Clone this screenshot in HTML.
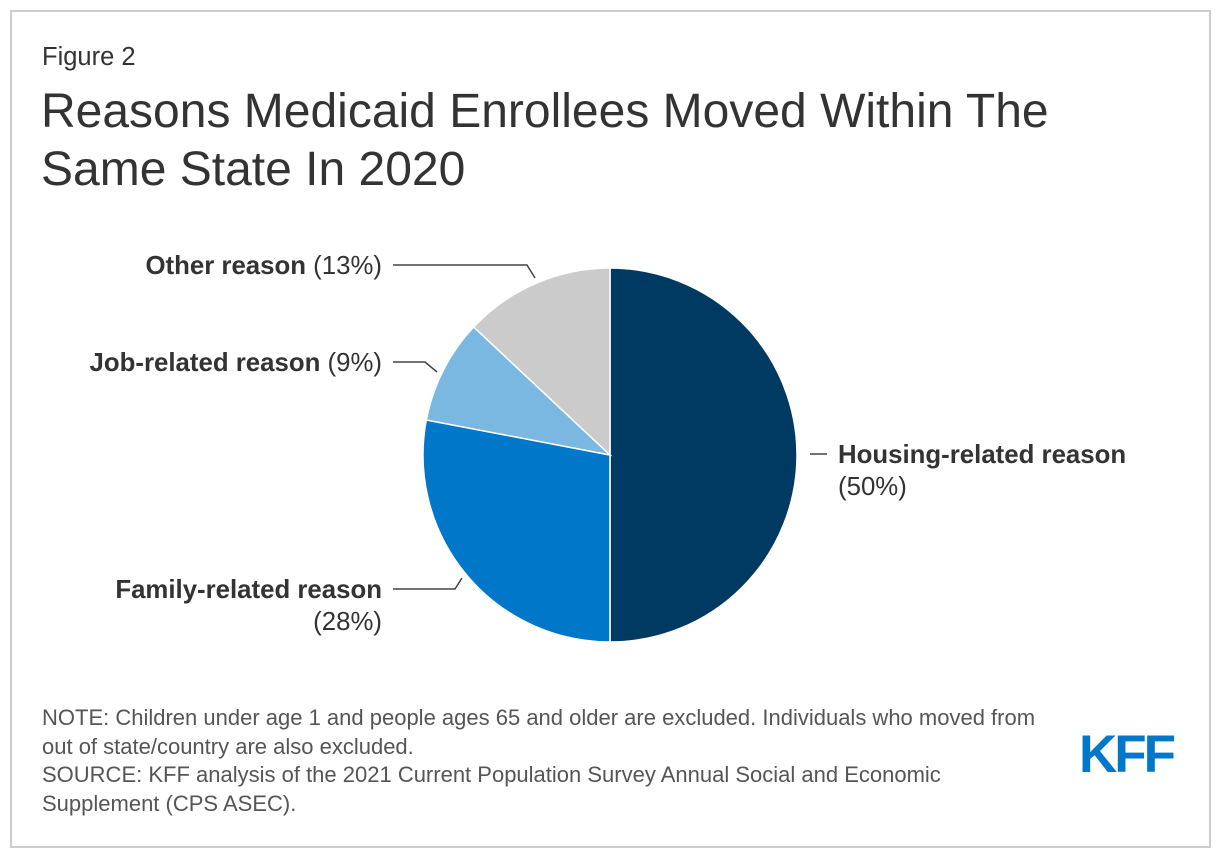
<!DOCTYPE html>
<html><head><meta charset="utf-8"><style>
body{margin:0;background:#fff;font-family:"Liberation Sans",Arial,sans-serif;color:#333;}
#frame{position:absolute;left:10px;top:10px;width:1197px;height:834px;border:2px solid #cdcdcd;}
.t{position:absolute;white-space:nowrap;}
</style></head><body>
<div id="frame"></div>
<div class="t" style="left:42px;top:43px;font-size:25.5px;">Figure 2</div>
<div class="t" style="left:41px;top:83px;font-size:48px;line-height:58px;color:#333;">Reasons Medicaid Enrollees Moved Within The<br>Same State In 2020</div>
<svg id="chart" width="1220" height="858" style="position:absolute;left:0;top:0;"></svg>
<div class="t" style="left:42px;top:704px;font-size:22px;line-height:28.5px;color:#555;">NOTE: Children under age 1 and people ages 65 and older are excluded. Individuals who moved from<br>out of state/country are also excluded.<br>SOURCE: KFF analysis of the 2021 Current Population Survey Annual Social and Economic<br>Supplement (CPS ASEC).</div>
<div class="t" style="left:1079px;top:724px;font-size:53px;font-weight:bold;color:#0077c8;letter-spacing:-3px;">KFF</div>
<script>
const categories=["Housing-related reason","Family-related reason","Job-related reason","Other reason"];
const values=[50,28,9,13];
const colors=["#003a63","#0077c8","#7ab8e2","#cbcbcb"];
const svg=document.getElementById('chart');
const NS="http://www.w3.org/2000/svg";
const cx=610,cy=455,r=187;
const total=values.reduce((a,b)=>a+b,0);
function pt(frac,rad){const a=frac*2*Math.PI;return [cx+rad*Math.sin(a),cy-rad*Math.cos(a)];}
let acc=0;
values.forEach((v,i)=>{
  const s=acc/total,e=(acc+v)/total;acc+=v;
  const p0=pt(s,r),p1=pt(e,r);
  const large=(e-s)>0.5?1:0;
  const path=document.createElementNS(NS,'path');
  path.setAttribute('d',`M${cx},${cy}L${p0[0]},${p0[1]}A${r},${r} 0 ${large} 1 ${p1[0]},${p1[1]}Z`);
  path.setAttribute('fill',colors[i]);
  path.setAttribute('stroke','#fff');
  path.setAttribute('stroke-width','1.5');
  
  
  svg.appendChild(path);
});
const leaders=[
  {pts:"810,454 827,454",lab:[[838,463,"start",categories[0],true],[838,495,"start","("+values[0]+"%)",false]]},
  {pts:"393,589 455,589 462,578",lab:[[382,598,"end",categories[1],true],[382,630,"end","("+values[1]+"%)",false]]},
  {pts:"393,362 425,362 437,372",lab:[[382,371,"end",categories[2],true,"("+values[2]+"%)"]]},
  {pts:"393,265 527,265 535,278",lab:[[382,274,"end",categories[3],true,"("+values[3]+"%)"]]}
];
leaders.forEach((L,i)=>{
  const pl=document.createElementNS(NS,'polyline');
  pl.setAttribute('points',L.pts);pl.setAttribute('fill','none');pl.setAttribute('stroke','#444');pl.setAttribute('stroke-width','1.5');
  
  
  svg.appendChild(pl);
  L.lab.forEach(l=>{
    const t=document.createElementNS(NS,'text');
    t.setAttribute('x',l[0]);t.setAttribute('y',l[1]);t.setAttribute('text-anchor',l[2]);
    t.setAttribute('font-size','25.8');t.setAttribute('fill','#333');t.setAttribute('font-family','Liberation Sans, Arial, sans-serif');
    
    
    const b=document.createElementNS(NS,'tspan');b.setAttribute('font-weight',l[4]?'bold':'normal');b.textContent=l[3];t.appendChild(b);
    if(l[5]){const n=document.createElementNS(NS,'tspan');n.textContent=' '+l[5];t.appendChild(n);}
    svg.appendChild(t);
  });
});
</script>
</body></html>
